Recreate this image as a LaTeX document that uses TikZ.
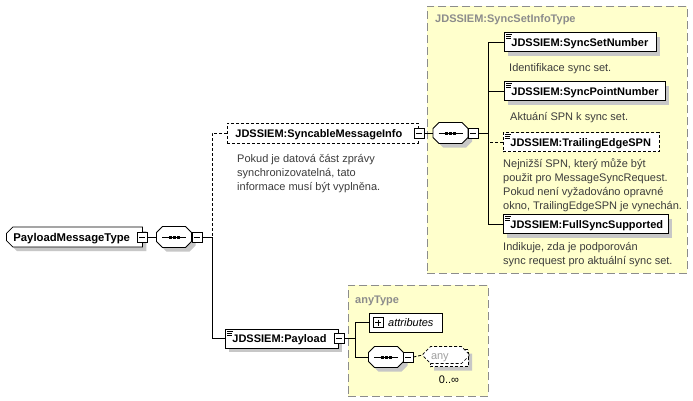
\documentclass[tikz,border=0pt]{standalone}
\usepackage{fontspec}
\setmainfont{Liberation Sans}
\usetikzlibrary{shapes.misc,shadows}
\definecolor{typebg}{HTML}{FFFFCC}
\definecolor{typeborder}{HTML}{8C8C8C}
\definecolor{doctext}{HTML}{3C3C3C}
\definecolor{anytext}{HTML}{A0A0A0}
\newcommand\elemicon[1]{%
  \draw[line width=0.6pt] ([shift={(2pt,-2.5pt)}]#1.north west) -- +(6pt,0pt);
  \draw[line width=0.6pt] ([shift={(2pt,-4.5pt)}]#1.north west) -- +(5pt,0pt);
  \draw[line width=0.6pt] ([shift={(2pt,-6.5pt)}]#1.north west) -- +(5pt,0pt);
}
\newcommand\seqnode[2]{%
  \node[seqanchor] (#1) at (#2) {};
  \begin{scope}[shift={(#2)}]
    \fill[black!22] (-7.5,-6.5) -- (15.5,-6.5) -- (21.5,-0.5) -- (21.5,8.5) -- (15.5,14.5) -- (-7.5,14.5) -- (-13.5,8.5) -- (-13.5,-0.5) -- cycle;
    \draw[line width=0.8pt,fill=white] (-11.5,-10.5) -- (11.5,-10.5) -- (17.5,-4.5) -- (17.5,4.5) -- (11.5,10.5) -- (-11.5,10.5) -- (-17.5,4.5) -- (-17.5,-4.5) -- cycle;
    \draw[line width=0.8pt] (-12,0) -- (12,0);
    \foreach \dx in {-4,0,4} \fill (\dx-1.5,-1.5) rectangle (\dx+1.5,1.5);
  \end{scope}}
\begin{document}
\begin{tikzpicture}[x=1pt,y=-1pt,
  conn/.style={line width=0.8pt},
  optconn/.style={line width=0.8pt,dash pattern=on 3pt off 2pt},
  shad/.style={drop shadow={shadow xshift=4pt,shadow yshift=-4pt,fill=black!22,opacity=1}},
  elem/.style={draw,line width=0.8pt,fill=white,font=\fontsize{11}{13}\selectfont\bfseries,
    inner xsep=7pt,inner ysep=0pt,minimum height=19pt,text height=8pt,text depth=0pt,align=left,anchor=west},
  optelem/.style={elem,dash pattern=on 3pt off 2pt},
  minusbox/.style={draw,line width=0.6pt,fill=white,minimum size=10pt,inner sep=0pt,
    path picture={\draw[line width=0.6pt] ([xshift=2pt]path picture bounding box.west) -- ([xshift=-2pt]path picture bounding box.east);}},
  plusbox/.style={draw,line width=0.6pt,fill=white,minimum size=10pt,inner sep=0pt,
    path picture={\draw[line width=0.6pt] ([xshift=2pt]path picture bounding box.west) -- ([xshift=-2pt]path picture bounding box.east);
      \draw[line width=0.6pt] ([yshift=-2pt]path picture bounding box.north) -- ([yshift=2pt]path picture bounding box.south);}},
  seqanchor/.style={minimum width=35pt,minimum height=21pt,inner sep=0pt},
  typebox/.style={draw=typeborder,fill=typebg,line width=0.8pt,dash pattern=on 8pt off 4pt,anchor=north west,inner sep=0pt},
  typetitle/.style={font=\fontsize{11}{13}\selectfont\bfseries,text=typeborder,anchor=base west,inner sep=0pt},
  doc/.style={font=\fontsize{11}{13}\selectfont,text=doctext,anchor=base west,inner sep=0pt},
  anybox/.style={chamfered rectangle,chamfered rectangle xsep=4pt,draw,line width=0.7pt,dash pattern=on 3pt off 2pt,fill=white,
    minimum width=38pt,minimum height=17pt,inner sep=0pt}
]
\useasboundingbox (0,0) rectangle (693,400);
\fill[white] (0,0) rectangle (693,400);

% type boxes
\node[typebox,minimum width=260pt,minimum height=267pt] (sit) at (427,6) {};
\node[typetitle] (sittitle) at (435,22) {JDSSIEM:SyncSetInfoType};
\node[typebox,minimum width=140pt,minimum height=111pt] (anyt) at (348,285) {};
\node[typetitle] (anyttitle) at (355,303) {anyType};

% root
\node[elem,chamfered rectangle,chamfered rectangle corners={north west,south west},chamfered rectangle xsep=3pt,
  font=\fontsize{11.3}{14}\selectfont\bfseries,inner xsep=4pt,
  text width=122pt,minimum height=20pt,shad] (pmt) at (6,237) {PayloadMessageType};
\node[minusbox] (m1) at (142,237) {};
\seqnode{s1}{174,237}
\node[minusbox] (m2) at (197,237) {};
\coordinate (j1) at (212,237);

% SyncableMessageInfo
\node[optelem,text width=175pt,inner xsep=8pt,minimum height=20pt] (syn) at (227,133) {JDSSIEM:SyncableMessageInfo};
\node[minusbox] (m3) at (syn.east) {};
\node[doc] (syndoc1) at (237,162) {Pokud je datová část zprávy};
\node[doc] (syndoc2) at (237,176) {synchronizovatelná, tato};
\node[doc] (syndoc3) at (237,190) {informace musí být vyplněna.};

\seqnode{s2}{450.5,133}
\node[minusbox] (m4) at (473,133) {};
\coordinate (j2) at (488,133);

\node[elem,text width=138pt,shad] (ssn) at (504,42) {JDSSIEM:SyncSetNumber};
\node[doc] (ssndoc) at (509,71) {Identifikace sync set.};
\node[elem,text width=147pt,shad] (spn) at (504,91) {JDSSIEM:SyncPointNumber};
\node[doc] (spndoc) at (510,120) {Aktuání SPN k sync set.};
\node[optelem,text width=142pt] (tes) at (503,142) {JDSSIEM:TrailingEdgeSPN};
\node[doc] (tesdoc1) at (503,167) {Nejnižší SPN, který může být};
\node[doc] (tesdoc2) at (503,181) {použit pro MessageSyncRequest.};
\node[doc] (tesdoc3) at (503,195) {Pokud není vyžadováno opravné};
\node[doc] (tesdoc4) at (503,209) {okno, TrailingEdgeSPN je vynechán.};
\node[elem,text width=151pt,shad] (fss) at (503,224) {JDSSIEM:FullSyncSupported};
\node[doc] (fssdoc1) at (503,250) {Indikuje, zda je podporován};
\node[doc] (fssdoc2) at (503,264) {sync request pro aktuální sync set.};
\elemicon{ssn}
\elemicon{spn}
\elemicon{tes}
\elemicon{fss}

% Payload
\node[elem,text width=99pt,shad] (pay) at (225,338.5) {JDSSIEM:Payload};
\elemicon{pay}
\node[minusbox] (m5) at (pay.east) {};
\coordinate (j3) at (355,338.5);
\node[draw,line width=0.8pt,fill=white,minimum width=73pt,minimum height=19pt,inner sep=0pt,anchor=west] (att) at (369,322.5) {};
\node[plusbox] (attplus) at (378,322.5) {};
\node[font=\fontsize{11}{13}\selectfont\itshape,anchor=base west,inner sep=0pt] (atttext) at (388,326.5) {attributes};
\seqnode{s3}{386,357}
\node[minusbox] (m6) at (408,357) {};
\node[anybox,shad] (anyb) at (449,358) {};
\node[anybox,text=anytext,font=\fontsize{11}{13}\selectfont,text width=30pt,align=left,inner xsep=4pt,text height=8pt,text depth=0pt] (anyf) at (446,355) {any};
\node[font=\fontsize{11}{13}\selectfont,anchor=base,inner sep=0pt] (mult) at (449,383) {0..∞};

% connectors
\draw[conn] (m1.east) -- (s1.west);
\draw[conn] (m2.east) -- (j1);
\draw[optconn] (syn.west) -| (j1);
\draw[conn] (pay.west) -| (j1);
\draw[conn] (m3.east) -- (s2.west);
\draw[conn] (m4.east) -- (j2);
\draw[conn] (ssn.west) -| (j2);
\draw[conn] (spn.west) -| (j2);
\draw[conn] (fss.west) -| (j2);
\draw[optconn] (tes.west) -- (tes.west -| j2);
\draw[conn] (m5.east) -- (j3);
\draw[conn] (att.west) -| (j3);
\draw[conn] (s3.west) -| (j3);
\draw[optconn] (m6.east) -- (anyf.west);
\end{tikzpicture}
\end{document}
